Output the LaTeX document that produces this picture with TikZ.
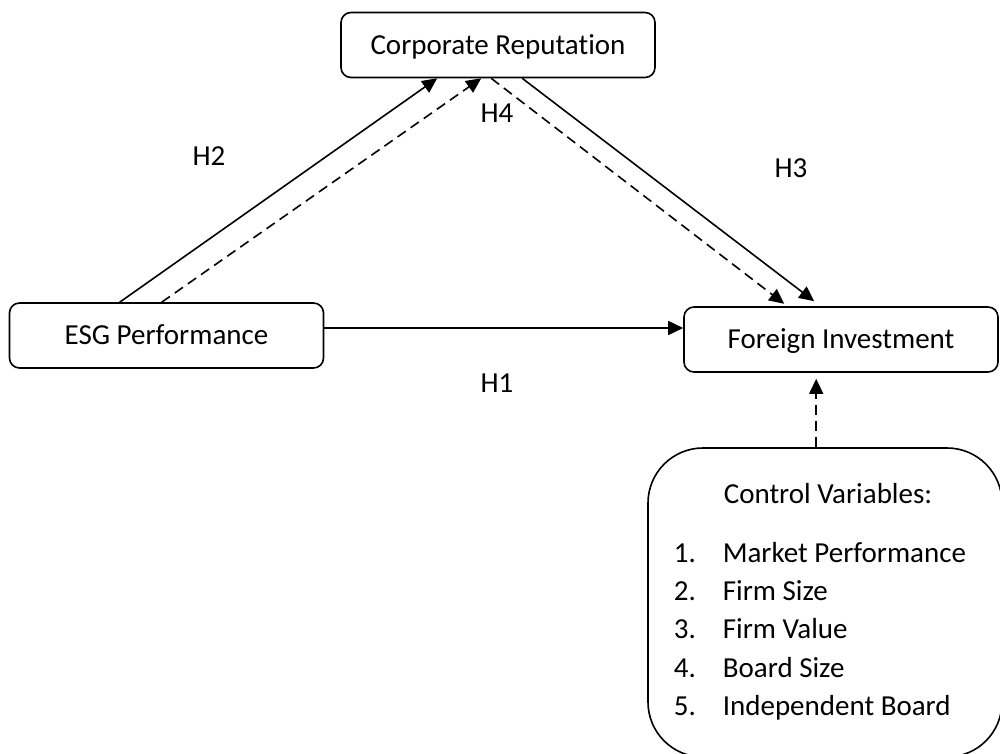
\documentclass[tikz,border=0pt]{standalone}
\usepackage{fontspec}
\setmainfont{Carlito}[Ligatures=NoCommon]
\usetikzlibrary{arrows.meta}
\begin{document}
\begin{tikzpicture}[x=0.5pt,y=-0.5pt, line width=0.8pt,
  txt/.style={inner sep=0pt, text height=9.3pt, text depth=0pt, font=\fontsize{14.5pt}{17pt}\selectfont},
  box/.style={txt, draw, rounded corners=5pt, minimum width=157pt, minimum height=32.5pt},
  arr/.style={-{Triangle[length=7.5pt,width=7pt]}},
  darr/.style={arr, dash pattern=on 5pt off 3pt}]
\useasboundingbox (0,0) rectangle (1000,754);
\clip (0,0) rectangle (1000,754);
% boxes
\node[box] (cr) at (498,45) {Corporate Reputation};
\node[box] (esg) at (166.5,335.5) {ESG Performance};
\node[box] (fi) at (841,339.5) {Foreign Investment};
\node[draw, rounded corners=27.5pt, minimum width=177pt, minimum height=154.5pt, inner sep=0pt] (ctrl) at (825,602.5) {};
% control box text
\node[txt] (ctitle) at (828,494) {Control Variables:};
\node[txt, anchor=west] (n1) at (673,553.5) {1.};
\node[txt, anchor=west] (n2) at (673,591.5) {2.};
\node[txt, anchor=west] (n3) at (673,629.5) {3.};
\node[txt, anchor=west] (n4) at (673,668) {4.};
\node[txt, anchor=west] (n5) at (673,706) {5.};
\node[txt, anchor=west] (t1) at (722,553.5) {Market Performance};
\node[txt, anchor=west] (t2) at (722,591.5) {Firm Size};
\node[txt, anchor=west] (t3) at (722,629.5) {Firm Value};
\node[txt, anchor=west] (t4) at (722,668) {Board Size};
\node[txt, anchor=west] (t5) at (722,706) {Independent Board};
% hypothesis labels
\node[txt] (h2) at (209,156) {H2};
\node[txt] (h4) at (497,113) {H4};
\node[txt] (h3) at (791,168) {H3};
\node[txt] (h1) at (497,383) {H1};
% connector end points
\coordinate (a1) at ([xshift=55.5pt]esg.north west);
\coordinate (a2) at ([xshift=76.5pt]esg.north west);
\coordinate (b1) at ([xshift=48.5pt]cr.south west);
\coordinate (b2) at ([xshift=70.5pt]cr.south west);
\coordinate (c1) at ([xshift=75.5pt]cr.south west);
\coordinate (c2) at ([xshift=91pt]cr.south west);
\coordinate (d1) at ([xshift=50.5pt,yshift=1.2pt]fi.north west);
\coordinate (d2) at ([xshift=65.5pt,yshift=2.5pt]fi.north west);
\coordinate (h1s) at ([yshift=3.75pt]esg.east);
\coordinate (ct) at ([xshift=84.5pt]ctrl.north west);
\coordinate (fib) at ([yshift=-3pt]fi.south);
% connectors
\draw[arr] (a1) -- (b1);
\draw[darr] (a2) -- (b2);
\draw[darr] (c1) -- (d1);
\draw[arr] (c2) -- (d2);
\draw[arr] (h1s) -- (h1s -| fi.west);
\draw[darr] (ct) -- (ct |- fib);
\end{tikzpicture}
\end{document}
